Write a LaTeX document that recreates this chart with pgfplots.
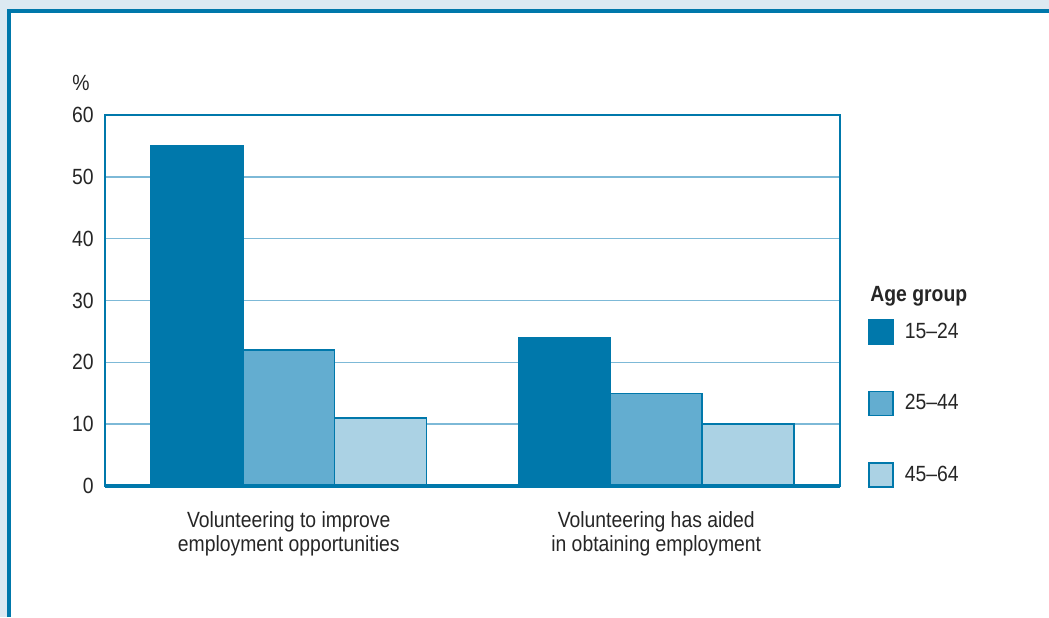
\documentclass[border=0pt]{standalone}
\usepackage{fontspec}
\setmainfont{Liberation Sans}[FakeStretch=0.88]
\usepackage{pgfplots}
\pgfplotsset{compat=1.18}
\pgfplotsset{/pgfplots/ybar legend/.style={/pgfplots/legend image code/.code={\draw[##1] (0pt,-6pt) rectangle (12pt,6pt);}}}
\definecolor{dark}{HTML}{0078AB}
\definecolor{mid}{HTML}{63ADD0}
\definecolor{light}{HTML}{ABD2E4}
\definecolor{gridc}{HTML}{7DB9D7}
\definecolor{band}{HTML}{DCE9F2}
\definecolor{txt}{HTML}{262626}
\begin{document}
\begin{tikzpicture}
\path[use as bounding box] (0,0) rectangle (524.5pt,308.5pt);
\fill[band] (0,0) rectangle (524.5pt,308.5pt);
\fill[white] (3.5pt,0) rectangle (524.5pt,304pt);
\draw[dark, line width=1.8pt] (4.4pt,0) -- (4.4pt,303.1pt) -- (524.5pt,303.1pt);
\begin{axis}[
  at={(52.5pt,65.5pt)}, anchor=south west,
  scale only axis, width=367.5pt, height=185.5pt,
  xmin=-0.5, xmax=1.5, ymin=0, ymax=60,
  ytick={0,10,...,60}, xtick={0,1},
  xticklabels={Volunteering to improve\\employment opportunities, Volunteering has aided\\in obtaining employment},
  x tick label style={align=center, font=\fontsize{11}{12}\selectfont, text=txt, inner sep=0pt, yshift=-12.5pt},
  y tick label style={font=\fontsize{11}{12}\selectfont, text=txt, inner sep=0pt, xshift=-5.5pt},
  /pgf/number format/assume math mode=true,
  major tick length=0pt,
  ymajorgrids, grid style={gridc, line width=0.8pt},
  axis line style={dark, line width=0.75pt},
  ybar, bar width=0.25,
  legend style={at={(rel axis cs:1.038,0.451)}, anchor=north west, draw=none, fill=none,
    font=\fontsize{11}{12}\selectfont, text=txt, row sep=23pt, inner sep=0pt,
    nodes={inner sep=1pt}},
  legend cell align=left,
  clip=false,
]
\addplot[fill=dark, draw=dark, line width=0.75pt, bar shift=-0.25] coordinates {(0,55) (1,24)};
\addplot[fill=mid, draw=dark, line width=0.75pt, bar shift=0] coordinates {(0,22) (1,15)};
\addplot[fill=light, draw=dark, line width=0.75pt, bar shift=0.25] coordinates {(0,11) (1,10)};
\legend{\hspace{4.5pt}15--24, \hspace{4.5pt}25--44, \hspace{4.5pt}45--64}
\draw[dark, line width=1.8pt] (rel axis cs:0,0) -- (rel axis cs:1,0);
\end{axis}
\node[anchor=center, text=txt, font=\fontsize{11}{12}\selectfont, inner sep=0pt] at (40.5pt,267pt) {\%};
\node[anchor=west, text=txt, font=\fontsize{11}{12}\bfseries\selectfont, inner sep=0pt] at (435pt,160.5pt) {Age group};
\end{tikzpicture}
\end{document}
